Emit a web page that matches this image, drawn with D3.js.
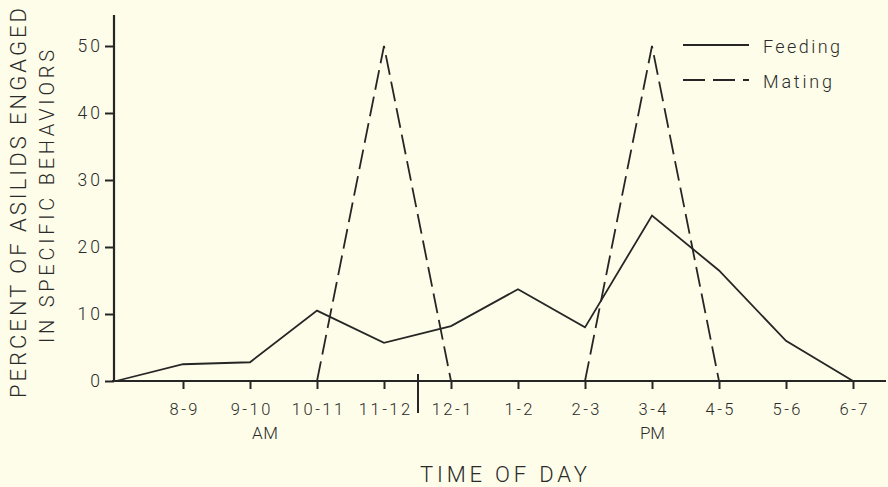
<!DOCTYPE html>
<html>
<head>
<meta charset="utf-8">
<script src="https://cdn.jsdelivr.net/npm/d3@7"></script>
<style>
  body { margin: 0; background: #fdfde9; }
  svg { display: block; }
  text { font-family: "Roboto", "DejaVu Sans", sans-serif; font-weight: 300; fill: #2a2a2a; }
</style>
</head>
<body>
<svg id="chart" width="888" height="487"></svg>
<script>
// data
const hours = ["7-8", "8-9", "9-10", "10-11", "11-12", "12-1", "1-2", "2-3", "3-4", "4-5", "5-6", "6-7"];
const feeding = [0, 2.5, 2.8, 10.5, 5.7, 8.2, 13.7, 8, 24.7, 16.5, 6, 0];
const mating = [null, null, null, 0, 50, 0, null, 0, 50, 0, null, null];
const yTicks = [0, 10, 20, 30, 40, 50];

const svg = d3.select("#chart");
const ink = "#262626";

const x = d3.scalePoint().domain(hours).range([116, 853]);
const y = d3.scaleLinear().domain([0, 50]).range([381, 46]);

// axes
const yAxis = svg.append("g").attr("transform", "translate(114,0)")
  .call(d3.axisLeft(y).tickValues(yTicks).tickSize(9).tickPadding(5).tickFormat(d3.format("d")));
yAxis.select(".domain").remove();
yAxis.append("line").attr("y1", 15).attr("y2", 382).attr("stroke", ink).attr("stroke-width", 2.2);

const xAxis = svg.append("g").attr("transform", "translate(0,381)")
  .call(d3.axisBottom(x).tickSize(8).tickPadding(14).tickFormat(d => d === "7-8" ? "" : d));
xAxis.select(".domain").remove();
xAxis.append("line").attr("x1", 112).attr("x2", 886).attr("stroke", ink).attr("stroke-width", 2);
xAxis.selectAll(".tick").filter(d => d === "7-8").select("line").remove();

svg.selectAll(".tick line").attr("stroke", ink).attr("stroke-width", 2);
svg.selectAll(".tick text").attr("fill", "#2a2a2a")
  .style("font-family", "Roboto, 'DejaVu Sans', sans-serif").style("font-weight", 300);
xAxis.selectAll(".tick text").style("font-size", "16.5px").attr("letter-spacing", 2.5).attr("dx", 1.25);
yAxis.selectAll(".tick text").style("font-size", "17.5px").attr("letter-spacing", 3).attr("dx", 3);

// AM / PM separator
const sep = (x("11-12") + x("12-1")) / 2 + 0.5;
svg.append("line").attr("x1", sep).attr("x2", sep).attr("y1", 374).attr("y2", 413)
  .attr("stroke", ink).attr("stroke-width", 2);

svg.append("text").attr("x", 252).attr("y", 439)
  .attr("textLength", 26).attr("lengthAdjust", "spacing")
  .style("font-size", "17px").text("AM");
svg.append("text").attr("x", x("3-4") - 12).attr("y", 439)
  .attr("textLength", 25).attr("lengthAdjust", "spacing")
  .style("font-size", "17px").text("PM");
svg.append("text").attr("x", 420).attr("y", 482)
  .attr("textLength", 167).attr("lengthAdjust", "spacing")
  .style("font-size", "22px").text("TIME OF DAY");

// y axis title
svg.append("text").attr("transform", "translate(26,398) rotate(-90)")
  .attr("textLength", 390).attr("lengthAdjust", "spacing")
  .style("font-size", "22px").text("PERCENT OF ASILIDS ENGAGED");
svg.append("text").attr("transform", "translate(54,343) rotate(-90)")
  .attr("textLength", 293).attr("lengthAdjust", "spacing")
  .style("font-size", "20px").text("IN SPECIFIC BEHAVIORS");

// series
const line = d3.line()
  .defined(d => d[1] !== null)
  .x(d => x(d[0]))
  .y(d => y(d[1]));

svg.append("path")
  .datum(hours.map((h, i) => [h, feeding[i]]))
  .attr("d", line)
  .attr("fill", "none").attr("stroke", ink).attr("stroke-width", 1.8);

svg.append("path")
  .datum(hours.map((h, i) => [h, mating[i]]))
  .attr("d", line)
  .attr("fill", "none").attr("stroke", ink).attr("stroke-width", 1.8)
  .attr("stroke-dasharray", "20,7");

// legend
const legend = svg.append("g").attr("transform", "translate(683,45)");
legend.append("line").attr("x1", 0).attr("x2", 66).attr("y1", 0).attr("y2", 0)
  .attr("stroke", ink).attr("stroke-width", 1.8);
legend.append("text").attr("x", 80).attr("y", 8)
  .attr("textLength", 77).attr("lengthAdjust", "spacing")
  .style("font-size", "18px").text("Feeding");
legend.append("line").attr("x1", 0).attr("x2", 66).attr("y1", 35).attr("y2", 35)
  .attr("stroke", ink).attr("stroke-width", 1.8).attr("stroke-dasharray", "22,8");
legend.append("text").attr("x", 80).attr("y", 43)
  .attr("textLength", 69).attr("lengthAdjust", "spacing")
  .style("font-size", "18px").text("Mating");
</script>
</body>
</html>
